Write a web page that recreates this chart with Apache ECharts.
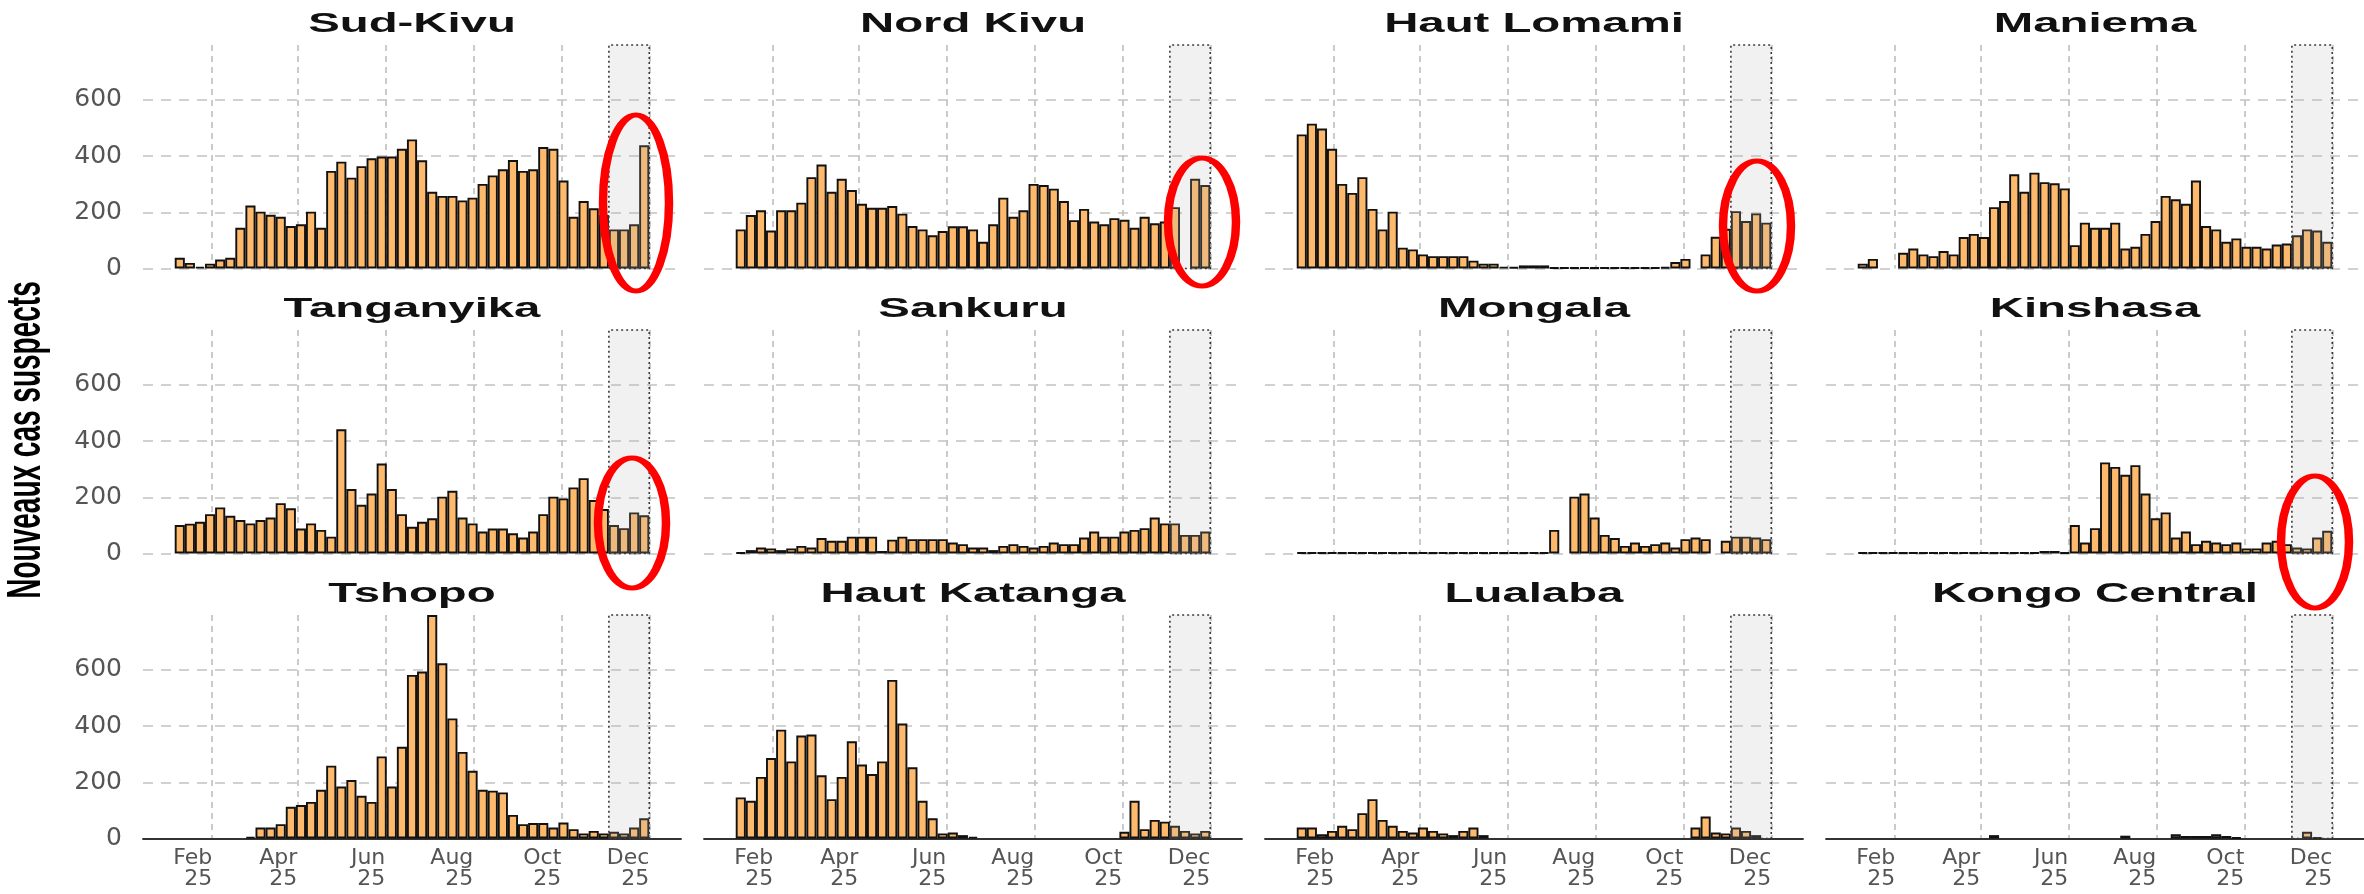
<!DOCTYPE html>
<html>
<head>
<meta charset="utf-8">
<title>Nouveaux cas suspects par province</title>
<script src="https://cdn.jsdelivr.net/npm/echarts@6/dist/echarts.min.js"></script>
<style>
  html, body { margin: 0; padding: 0; background: #fff; }
  #chart { width: 2364px; height: 894px; }
</style>
</head>
<body>
<div id="chart"></div>
<script>
// semaines epidemiologiques (lundi de debut de semaine)
var weeks = ['2025-01-06', '2025-01-13', '2025-01-20', '2025-01-27', '2025-02-03', '2025-02-10', '2025-02-17', '2025-02-24',
    '2025-03-03', '2025-03-10', '2025-03-17', '2025-03-24', '2025-03-31', '2025-04-07', '2025-04-14', '2025-04-21',
    '2025-04-28', '2025-05-05', '2025-05-12', '2025-05-19', '2025-05-26', '2025-06-02', '2025-06-09', '2025-06-16',
    '2025-06-23', '2025-06-30', '2025-07-07', '2025-07-14', '2025-07-21', '2025-07-28', '2025-08-04', '2025-08-11',
    '2025-08-18', '2025-08-25', '2025-09-01', '2025-09-08', '2025-09-15', '2025-09-22', '2025-09-29', '2025-10-06',
    '2025-10-13', '2025-10-20', '2025-10-27', '2025-11-03', '2025-11-10', '2025-11-17', '2025-11-24'];

var monthTicks = ['2025-02-01', '2025-04-01', '2025-06-01', '2025-08-01', '2025-10-01', '2025-12-01'];
var monthLabels = ['Feb\n25', 'Apr\n25', 'Jun\n25', 'Aug\n25', 'Oct\n25', 'Dec\n25'];
var yTicks = [0, 200, 400, 600];

// periode grisee (4 dernieres semaines)
var shadeStart = '2025-11-03';
var shadeEnd = '2025-12-01';

var sudKivu = [38, 20, 6, 17, 32, 38, 145, 224, 202, 191, 184, 151, 157, 202, 145, 347, 380, 323, 364, 392,
    398, 398, 426, 459, 385, 273, 258, 258, 242, 252, 301, 331, 353, 386, 347, 353, 432, 426, 313, 184,
    240, 214, 190, 139, 139, 157, 438];
var nordKivu = [139, 190, 207, 135, 207, 207, 234, 325, 370, 273, 319, 279, 230, 216, 216, 222, 195, 151, 139, 118,
    133, 150, 150, 139, 95, 157, 252, 184, 207, 301, 297, 284, 240, 172, 212, 167, 157, 179, 173, 145,
    184, 161, 167, 218, null, 319, 297];
var hautLomami = [477, 515, 498, 426, 301, 269, 325, 212, 139, 202, 74, 68, 50, 44, 44, 44, 44, 28, 17, 17,
    6, 5, 11, 11, 11, 0, 0, 0, 0, 0, 0, 0, 0, 0, 0, 0, 5, 23, 34, null,
    50, 113, 141, 204, 169, 196, 163];
var maniema = [17, 34, null, null, 56, 71, 50, 44, 62, 50, 112, 123, 112, 218, 240, 335, 273, 341, 307, 303,
    285, 83, 163, 145, 145, 163, 71, 77, 123, 169, 258, 246, 230, 313, 151, 139, 95, 107, 77, 77,
    71, 85, 89, 118, 139, 135, 95];
var tanganyika = [101, 106, 113, 140, 164, 134, 119, 107, 119, 128, 179, 161, 89, 107, 84, 60, 442, 229, 173, 213,
    320, 229, 140, 95, 113, 125, 202, 223, 128, 107, 78, 89, 89, 72, 57, 78, 140, 202, 196, 235,
    268, 190, 158, 101, 90, 146, 136];
var sankuru = [0, 12, 21, 18, 12, 18, 27, 21, 55, 45, 45, 60, 60, 60, 9, 49, 60, 51, 51, 51,
    51, 39, 33, 21, 21, 12, 27, 33, 27, 21, 27, 39, 33, 33, 57, 78, 60, 60, 78, 84,
    90, 128, 107, 107, 66, 66, 78];
var mongala = [0, 0, 0, 0, 0, 0, 0, 0, 0, 0, 0, 0, 0, 0, 0, 0, 0, 0, 0, 0,
    0, 0, 0, 0, 3, 84, null, 202, 213, 128, 66, 55, 27, 39, 27, 33, 39, 21, 51, 57,
    51, null, 45, 60, 60, 57, 51];
var kinshasa = [0, 0, 0, 0, 0, 0, 0, 0, 0, 0, 0, 0, 0, 0, 0, 0, 0, 0, 9, 9,
    2, 101, 39, 90, 324, 308, 280, 314, 213, 125, 146, 57, 78, 33, 45, 39, 33, 39, 18, 18,
    39, 45, 33, 21, 18, 57, 81];
var tshopo = [null, null, null, null, null, null, null, 6, 39, 39, 51, 113, 119, 130, 173, 259, 185, 208, 152, 130,
    292, 185, 326, 582, 594, 795, 623, 427, 308, 241, 173, 170, 164, 84, 51, 55, 55, 39, 57, 33,
    18, 27, 18, 24, 18, 39, 72];
var hautKatanga = [146, 134, 219, 286, 387, 274, 366, 370, 225, 140, 219, 346, 263, 229, 274, 564, 409, 253, 134, 72,
    18, 21, 12, 6, null, null, null, null, null, null, null, null, null, null, null, null, null, null, 24, 134,
    33, 66, 60, 45, 27, 18, 27];
var lualaba = [39, 39, 15, 27, 45, 33, 90, 140, 66, 45, 27, 21, 39, 27, 18, 12, 27, 39, 12, null,
    null, null, null, null, null, null, null, null, null, null, null, null, null, null, null, null, null, null, null, 39,
    78, 21, 18, 39, 27, 12, null];
var kongoCentral = [null, null, null, null, null, null, null, null, null, null, null, null, null, 12, null, null, null, null, null, null,
    null, null, null, null, null, null, 10, null, null, null, null, 15, 9, 9, 9, 15, 9, 3, null, null,
    null, null, null, null, 24, 3, null];

var provinces = ['Sud-Kivu', 'Nord Kivu', 'Haut Lomami', 'Maniema',
    'Tanganyika', 'Sankuru', 'Mongala', 'Kinshasa',
    'Tshopo', 'Haut Katanga', 'Lualaba', 'Kongo Central'];
var provinceValues = [sudKivu, nordKivu, hautLomami, maniema,
    tanganyika, sankuru, mongala, kinshasa,
    tshopo, hautKatanga, lualaba, kongoCentral];

var DAY = 86400000;
function toTime(s) {
    return new Date(s + 'T00:00:00').getTime();
}

var monthTimes = monthTicks.map(toTime);
function fmtMonth(v) {
    for (var k = 0; k < monthTimes.length; k++) {
        if (Math.abs(monthTimes[k] - v) < DAY / 2) return monthLabels[k];
    }
    return '';
}

// mise en page des 12 panneaux
var lefts = [143, 704, 1265, 1826];
var tops = [45, 330, 615];
var panelW = 538, panelH = 223.5;
var xMin = toTime('2024-12-15'), xMax = toTime('2025-12-23');
var yMax = 795;
var stretch = 1.69; // le graphique d'origine est etire horizontalement

var gridDash = '#c2c2c2';
var grids = [], xAxes = [], yAxes = [], series = [], graphics = [];

provinces.forEach(function (name, i) {
    var row = Math.floor(i / 4), col = i % 4;
    var bottomRow = row === 2;
    var firstCol = col === 0;

    grids.push({ left: lefts[col], top: tops[row], width: panelW, height: panelH });

    xAxes.push({
        type: 'value',
        gridIndex: i,
        min: xMin,
        max: xMax,
        axisLine: { show: bottomRow, lineStyle: { color: '#333', width: 1.8 } },
        axisTick: { show: false, customValues: monthTimes },
        axisLabel: {
            show: bottomRow,
            customValues: monthTimes,
            formatter: fmtMonth,
            align: 'right',
            verticalAlign: 'top',
            margin: 9,
            fontFamily: 'DejaVu Sans',
            fontSize: 22,
            lineHeight: 21,
            color: '#555'
        },
        splitLine: { show: true, lineStyle: { color: gridDash, width: 1.7, type: [6, 5] } }
    });

    yAxes.push({
        type: 'value',
        gridIndex: i,
        min: 0,
        max: yMax,
        axisLine: { show: false },
        axisTick: { show: false, customValues: yTicks },
        axisLabel: {
            show: firstCol,
            customValues: yTicks,
            margin: 21,
            fontFamily: 'DejaVu Sans',
            fontSize: 25,
            color: '#555'
        },
        splitLine: { show: true, lineStyle: { color: gridDash, width: 1.7, type: [10, 8] } }
    });

    var vals = provinceValues[i];
    series.push({
        type: 'bar',
        name: name,
        xAxisIndex: i,
        yAxisIndex: i,
        barWidth: '100%',
        barMinHeight: 1,
        animation: false,
        data: weeks.map(function (w, j) {
            return [toTime(w) + 3.5 * DAY, vals[j]];
        }),
        itemStyle: { color: '#FDB96C', borderColor: '#111', borderWidth: 1.9 }
    });

    // zone grisee par-dessus les barres
    series.push({
        type: 'line',
        xAxisIndex: i,
        yAxisIndex: i,
        data: [],
        silent: true,
        markArea: {
            silent: true,
            z: 5,
            itemStyle: {
                color: 'rgba(185,185,185,0.2)',
                borderColor: '#3a3a3a',
                borderWidth: 1.6,
                borderType: [2, 3]
            },
            data: [[{ xAxis: toTime(shadeStart) }, { xAxis: toTime(shadeEnd) }]]
        }
    });

    graphics.push({
        type: 'text',
        x: lefts[col] + panelW / 2,
        y: tops[row] - 21,
        scaleX: stretch,
        z: 10,
        style: {
            text: name,
            font: 'bold 28px "Liberation Sans", Arial, sans-serif',
            fill: '#111',
            align: 'center',
            verticalAlign: 'middle',
            textAlign: 'center',
            textVerticalAlign: 'middle'
        }
    });
});

// titre de l'axe y
graphics.push({
    type: 'text',
    x: 27,
    y: 440,
    rotation: Math.PI / 2,
    scaleY: stretch,
    z: 10,
    style: {
        text: 'Nouveaux cas suspects',
        font: 'bold 28px "Liberation Sans", Arial, sans-serif',
        fill: '#000',
        align: 'center',
        verticalAlign: 'middle',
        textAlign: 'center',
        textVerticalAlign: 'middle'
    }
});

// ellipses rouges d'annotation (centre x, centre y, rayon x, rayon y)
var circles = [
    [636, 203, 33, 88],
    [1202, 222, 34, 64],
    [1757, 226, 34, 65],
    [632, 523, 34, 65],
    [2315, 542, 34, 66]
];
circles.forEach(function (c) {
    graphics.push({
        type: 'ellipse',
        x: c[0],
        y: c[1],
        scaleX: stretch,
        z: 100,
        silent: true,
        shape: { cx: 0, cy: 0, rx: c[2] / stretch, ry: c[3] },
        style: { fill: 'none', stroke: '#ff0000', lineWidth: 5 }
    });
});

var myChart = echarts.init(document.getElementById('chart'));
var option = {
    animation: false,
    backgroundColor: '#fff',
    textStyle: { fontFamily: 'DejaVu Sans' },
    grid: grids,
    xAxis: xAxes,
    yAxis: yAxes,
    series: series,
    graphic: graphics
};
myChart.setOption(option);
</script>
</body>
</html>
